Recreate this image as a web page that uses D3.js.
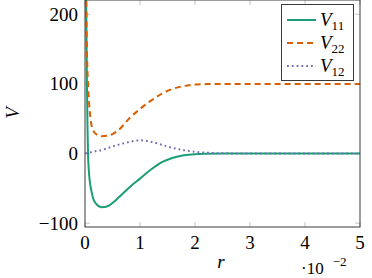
<!DOCTYPE html>
<html>
<head>
<meta charset="utf-8">
<script src="https://cdn.jsdelivr.net/npm/d3@7"></script>
<style>
  body { margin: 0; background: #fff; }
</style>
</head>
<body>
<div id="chart"></div>
<script>
// values (r in units of 1e-2)
const rValues = [0.005, 0.015, 0.025, 0.035, 0.045, 0.055, 0.075, 0.1, 0.12, 0.15, 0.2, 0.3, 0.4, 0.5, 0.6, 0.8, 1.0, 1.2, 1.4, 1.6, 1.8, 2.0, 2.2, 2.5, 3.0, 3.5, 4.0, 4.5, 5.0];
const v11 = [400, 260, 190, 100, 40, 0, -30, -47, -55, -65, -72, -77, -76, -71, -64, -49, -36, -23, -12.5, -6, -2.5, -0.9, -0.3, 0, 0, 0, 0, 0, 0];
const v22 = [420, 300, 210, 150, 118, 100, 72, 50, 40, 33, 28, 25, 25.5, 28, 33, 50, 64, 76, 86, 93, 97, 99, 99.7, 100, 100, 100, 100, 100, 100];
const v12 = [0, 0.2, 0.4, 0.6, 0.8, 1, 1.3, 1.7, 2, 2.6, 3.5, 5, 7.5, 10, 12.5, 16.5, 19, 17, 12.5, 8, 4.8, 2.5, 1.2, 0.4, 0, 0, 0, 0, 0];
const seriesNames = ["V11", "V22", "V12"];
const xTicks = [0, 1, 2, 3, 4, 5];
const yTicks = [-100, 0, 100, 200];

const width = 372, height = 278;
const margin = { top: 0, right: 12, bottom: 51, left: 85 };
const w = width - margin.left - margin.right;
const h = height - margin.top - margin.bottom;
const font = "'Liberation Serif', 'DejaVu Serif', serif";

const svg = d3.select("#chart").append("svg")
  .attr("width", width)
  .attr("height", height)
  .style("font-family", font);

const g = svg.append("g")
  .attr("transform", `translate(${margin.left},${margin.top})`);

const x = d3.scaleLinear().domain([0, 5]).range([0, w]);
const y = d3.scaleLinear().domain([-105.5, 220.5]).range([h, 0]);

g.append("clipPath").attr("id", "clip")
  .append("rect").attr("width", w).attr("height", h);

// tick marks inside on all four sides
const tickColor = "#b5b5b5";
const ticks = g.append("g").attr("stroke", tickColor).attr("stroke-width", 0.8);
xTicks.forEach(t => {
  ticks.append("line").attr("x1", x(t)).attr("x2", x(t)).attr("y1", h).attr("y2", h - 5);
  ticks.append("line").attr("x1", x(t)).attr("x2", x(t)).attr("y1", 0).attr("y2", 5);
});
yTicks.forEach(t => {
  ticks.append("line").attr("x1", 0).attr("x2", 5).attr("y1", y(t)).attr("y2", y(t));
  ticks.append("line").attr("x1", w).attr("x2", w - 5).attr("y1", y(t)).attr("y2", y(t));
});

// the lines
const colors = { V11: "#1b9e77", V22: "#d95f02", V12: "#7570b3" };
const dashes = { V11: null, V22: "6,4", V12: "1.8,3" };
const values = { V11: v11, V22: v22, V12: v12 };

const line = d3.line()
  .x(d => x(d[0]))
  .y(d => y(d[1]))
  .curve(d3.curveMonotoneX);

const plot = g.append("g").attr("clip-path", "url(#clip)");
seriesNames.forEach(name => {
  plot.append("path")
    .datum(rValues.map((r, i) => [r, values[name][i]]))
    .attr("fill", "none")
    .attr("stroke", colors[name])
    .attr("stroke-width", 2)
    .attr("stroke-dasharray", dashes[name])
    .attr("d", line);
});

// frame
g.append("rect")
  .attr("width", w).attr("height", h)
  .attr("fill", "none").attr("stroke", "#3a3a3a").attr("stroke-width", 1);

// tick labels
g.selectAll(".xl").data(xTicks).enter().append("text")
  .attr("x", d => x(d)).attr("y", h + 22)
  .attr("text-anchor", "middle").style("font-size", "19px")
  .text(d => d);

g.selectAll(".yl").data(yTicks).enter().append("text")
  .attr("x", -7).attr("y", d => y(d) + 6.5)
  .attr("text-anchor", "end").style("font-size", "19px")
  .text(d => d < 0 ? "\u2212" + Math.abs(d) : d);

// axis labels
svg.append("text")
  .attr("transform", "translate(19,113) rotate(-90)")
  .attr("text-anchor", "middle").style("font-size", "19px").style("font-style", "italic")
  .text("V");

svg.append("text")
  .attr("x", 221).attr("y", 268)
  .attr("text-anchor", "middle").style("font-size", "19px").style("font-style", "italic")
  .text("r");

const sci = svg.append("text").attr("x", 301).attr("y", 274).style("font-size", "17px");
sci.append("tspan").text("\u00b710");
sci.append("tspan").attr("dx", 9).attr("dy", -8).style("font-size", "13px").text("\u22122");

// legend
const leg = svg.append("g");
leg.append("rect")
  .attr("x", 281.5).attr("y", 4.5).attr("width", 72).attr("height", 76)
  .attr("fill", "#fff").attr("stroke", "#3a3a3a").attr("stroke-width", 1);
seriesNames.forEach((name, i) => {
  const cy = 20 + i * 23;
  leg.append("line")
    .attr("x1", 287).attr("x2", 316).attr("y1", cy).attr("y2", cy)
    .attr("stroke", colors[name]).attr("stroke-width", 2)
    .attr("stroke-dasharray", dashes[name]);
  const t = leg.append("text").attr("x", 320).attr("y", cy + 6).style("font-size", "19px");
  t.append("tspan").style("font-style", "italic").text("V");
  t.append("tspan").attr("dy", 4).style("font-size", "13px").text(name.slice(1));
});
</script>
</body>
</html>
